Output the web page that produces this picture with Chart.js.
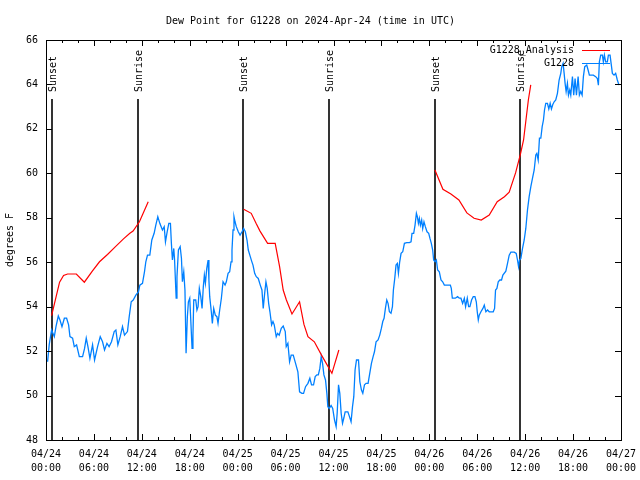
<!DOCTYPE html>
<html lang="en">
<head>
    <meta charset="UTF-8">
    <title>Dew Point for G1228</title>
    <script src="https://cdn.jsdelivr.net/npm/chart.js"></script>
    <style>
        body { margin: 0; background: #fff; }
    </style>
</head>
<body>
    <canvas id="dewChart" width="640" height="480"></canvas>

    <script>
        // hours since 2024-04-24 00:00 UTC
        const tickDates = ['04/24', '04/24', '04/24', '04/24', '04/25', '04/25', '04/25', '04/25', '04/26', '04/26', '04/26', '04/26', '04/27'];
        const tickTimes = ['00:00', '06:00', '12:00', '18:00', '00:00', '06:00', '12:00', '18:00', '00:00', '06:00', '12:00', '18:00', '00:00'];

        const sunHours = [0.7, 11.5, 24.7, 35.4, 48.7, 59.4];
        const sunLabels = ['Sunset', 'Sunrise', 'Sunset', 'Sunrise', 'Sunset', 'Sunrise'];

        // analysis runs, null breaks the line between runs
        const analysisHours = [
            0.7, 1.7, 2.2, 2.7, 3.8, 4.8, 5.8, 6.7, 7.7, 8.7, 9.7, 10.5, 10.9, 11.7, 12.8, 18,
            24.75, 25.7, 26.3, 26.8, 27.75, 28.7, 29.25, 29.7, 30.1, 30.8, 31.75, 32.3, 32.8, 33.6, 34.5, 35.8, 36.67, 42,
            48.7, 49.7, 50.7, 51.7, 52.7, 53.6, 54.5, 55.5, 56.5, 57.4, 58.0, 58.8, 59.4, 59.8, 60.1, 60.4, 60.7
        ];
        const analysisValues = [
            53.6, 55.1, 55.4, 55.47, 55.47, 55.1, 55.6, 56.02, 56.35, 56.7, 57.05, 57.3, 57.4, 57.82, 58.72, null,
            58.38, 58.2, 57.75, 57.4, 56.85, 56.85, 55.8, 54.75, 54.3, 53.67, 54.22, 53.2, 52.65, 52.42, 51.82, 51.0, 52.05, null,
            60.15, 59.28, 59.07, 58.8, 58.22, 57.98, 57.9, 58.12, 58.72, 58.95, 59.15, 60.02, 60.85, 61.5, 62.4, 63.3, 63.98
        ];

        const obsHours = [
            0.2, 0.4, 0.7, 1.04, 1.25, 1.54, 1.75, 2.0, 2.3, 2.58, 2.83, 3.0, 3.33, 3.54, 3.83, 4.17, 4.58, 4.83, 5.04, 5.25,
            5.5, 5.83, 6.08, 6.46, 6.79, 7.08, 7.33, 7.63, 7.9, 8.2, 8.54, 8.75, 9.0, 9.29, 9.58, 9.83, 10.2, 10.42, 10.67, 10.92,
            11.25, 11.58, 11.75, 12.08, 12.33, 12.5, 12.71, 13.0, 13.25, 13.54, 13.75, 14.0, 14.25, 14.58, 14.8, 14.96, 15.17, 15.38, 15.58, 15.7,
            15.83, 16.0, 16.1, 16.3, 16.4, 16.58, 16.8, 16.96, 17.08, 17.25, 17.4, 17.54, 17.7, 17.83, 18.0, 18.1, 18.29, 18.4, 18.5, 18.75,
            18.9, 19.04, 19.2, 19.38, 19.54, 19.7, 19.83, 19.96, 20.13, 20.3, 20.4, 20.5, 20.7, 20.83, 21.0, 21.2, 21.4, 21.54, 21.75, 21.96,
            22.17, 22.42, 22.58, 22.8, 23.0, 23.17, 23.29, 23.42, 23.54, 23.67, 23.83, 24.08, 24.3, 24.54, 24.75, 24.96, 25.17, 25.33, 25.58, 25.75,
            25.92, 26.13, 26.33, 26.58, 26.83, 27.04, 27.2, 27.38, 27.54, 27.7, 27.88, 28.04, 28.25, 28.42, 28.58, 28.83, 29.0, 29.2, 29.46, 29.7,
            29.96, 30.08, 30.29, 30.5, 30.7, 30.96, 31.25, 31.54, 31.75, 32.04, 32.25, 32.5, 32.8, 33.04, 33.25, 33.5, 33.71, 33.92, 34.1, 34.29,
            34.46, 34.63, 34.8, 35.0, 35.17, 35.29, 35.46, 35.7, 35.9, 36.13, 36.33, 36.46, 36.63, 36.79, 36.96, 37.13, 37.3, 37.46, 37.8, 38.0,
            38.2, 38.38, 38.54, 38.7, 38.88, 39.13, 39.3, 39.5, 39.67, 39.88, 40.08, 40.33, 40.54, 40.75, 40.96, 41.13, 41.33, 41.58, 41.79, 42.0,
            42.17, 42.33, 42.5, 42.67, 42.83, 43.0, 43.2, 43.38, 43.5, 43.67, 43.83, 44.0, 44.13, 44.29, 44.46, 44.67, 44.88, 45.17, 45.5, 45.71,
            45.83, 46.04, 46.21, 46.38, 46.5, 46.63, 46.75, 46.88, 47.04, 47.17, 47.33, 47.5, 47.71, 47.92, 48.08, 48.25, 48.42, 48.54, 48.71, 48.88,
            49.04, 49.25, 49.46, 49.67, 49.88, 50.29, 50.63, 50.75, 50.88, 51.25, 51.54, 51.75, 51.96, 52.17, 52.38, 52.54, 52.75, 52.92, 53.08, 53.29,
            53.5, 53.71, 53.88, 54.0, 54.13, 54.25, 54.46, 54.71, 54.88, 55.08, 55.29, 55.5, 55.71, 56.0, 56.17, 56.29, 56.46, 56.63, 56.83, 57.04,
            57.21, 57.58, 57.79, 58.0, 58.21, 58.63, 58.88, 59.04, 59.17, 59.29, 59.46, 59.67, 59.88, 60.08, 60.29, 60.5, 60.71, 60.92, 61.13, 61.33,
            61.46, 61.63, 61.79, 61.96, 62.13, 62.29, 62.42, 62.58, 62.79, 62.96, 63.13, 63.29, 63.46, 63.63, 63.83, 64.04, 64.25, 64.46, 64.58, 64.75,
            64.88, 65.0, 65.13, 65.29, 65.42, 65.58, 65.71, 65.92, 66.08, 66.25, 66.42, 66.63, 66.79, 66.96, 67.13, 67.29, 67.46, 67.71, 67.88, 68.04,
            68.29, 68.54, 68.83, 69.04, 69.17, 69.29, 69.46, 69.67, 69.79, 69.92, 70.08, 70.29, 70.42, 70.63, 70.79, 70.92, 71.13, 71.33, 71.54, 71.75
        ];
        const obsValues = [
            51.52, 52.28, 52.95, 52.65, 53.1, 53.58, 53.4, 53.1, 53.48, 53.48, 53.18, 52.65, 52.58, 52.2, 52.28, 51.75, 51.75, 52.12, 52.58, 52.2,
            51.67, 52.28, 51.6, 52.2, 52.65, 52.42, 52.05, 52.35, 52.2, 52.42, 52.88, 52.95, 52.28, 52.65, 53.1, 52.72, 52.88, 53.55, 54.22, 54.3,
            54.52, 54.67, 54.97, 55.05, 55.57, 56.02, 56.32, 56.32, 57.0, 57.3, 57.67, 58.05, 57.75, 57.45, 57.6, 56.92, 57.37, 57.75, 57.75, 56.85,
            56.1, 56.62, 56.1, 54.38, 55.35, 56.55, 56.7, 56.18, 55.12, 55.57, 54.75, 51.9, 53.55, 54.22, 54.38, 53.62, 52.12, 52.72, 54.3, 54.3,
            53.85, 54.0, 54.82, 54.45, 53.92, 54.9, 55.42, 55.05, 55.72, 56.1, 55.2, 54.45, 53.77, 53.25, 53.92, 53.62, 53.55, 53.25, 53.85, 54.38,
            55.12, 54.97, 55.12, 55.5, 55.57, 56.02, 56.55, 57.45, 58.05, 57.82, 57.6, 57.37, 57.22, 57.37, 57.52, 57.37, 57.0, 56.55, 56.25, 56.05,
            55.87, 55.5, 55.35, 55.27, 54.97, 54.75, 53.92, 54.6, 55.12, 54.82, 54.15, 53.77, 53.18, 53.33, 53.18, 52.65, 52.8, 52.72, 53.03, 53.13,
            52.88, 52.2, 52.35, 51.52, 51.82, 51.82, 51.45, 51.07, 50.17, 50.1, 50.1, 50.4, 50.55, 50.78, 50.48, 50.48, 50.85, 50.93, 50.93, 51.22,
            51.75, 51.45, 50.93, 50.7, 50.1, 49.5, 49.42, 49.55, 49.42, 48.9, 48.6, 49.2, 50.48, 50.1, 49.2, 48.75, 49.0, 49.27, 49.27, 49.05,
            48.82, 49.5, 49.95, 51.15, 51.6, 51.6, 50.62, 50.25, 50.1, 50.48, 50.55, 50.55, 51.0, 51.45, 51.75, 51.97, 52.42, 52.5, 52.72, 53.03,
            53.33, 53.48, 53.92, 54.3, 54.15, 53.77, 53.7, 54.0, 54.75, 55.27, 55.87, 55.95, 55.5, 56.02, 56.4, 56.47, 56.85, 56.88, 56.88, 56.92,
            57.3, 57.3, 57.67, 58.2, 58.05, 57.75, 57.97, 57.67, 57.9, 57.52, 57.82, 57.6, 57.37, 57.3, 57.07, 56.85, 56.55, 56.1, 56.02, 56.1,
            55.65, 55.57, 55.2, 55.12, 54.97, 54.97, 54.97, 54.82, 54.38, 54.38, 54.45, 54.38, 54.38, 54.15, 54.38, 54.0, 54.38, 54.0, 54.0, 54.3,
            54.45, 54.45, 54.22, 53.77, 53.4, 53.62, 53.77, 53.92, 54.07, 53.77, 53.85, 53.77, 53.77, 53.77, 53.92, 54.75, 54.82, 55.12, 55.2, 55.2,
            55.42, 55.6, 55.95, 56.32, 56.45, 56.45, 56.4, 56.1, 55.8, 56.1, 56.17, 56.62, 57.0, 57.52, 58.35, 58.95, 59.4, 59.78, 60.15, 60.83,
            60.9, 60.6, 61.58, 61.58, 62.1, 62.4, 62.85, 63.15, 63.15, 62.9, 63.15, 62.9, 63.1, 63.22, 63.3, 63.6, 64.2, 64.5, 64.8, 64.95,
            64.5, 64.05, 63.68, 64.05, 63.52, 63.75, 63.52, 64.35, 63.52, 64.27, 63.52, 64.35, 63.52, 63.68, 63.52, 64.35, 64.8, 64.87, 64.65, 64.42,
            64.42, 64.42, 64.35, 64.27, 63.97, 65.02, 65.32, 65.32, 65.02, 65.32, 65.02, 65.02, 65.32, 65.32, 64.87, 64.5, 64.42, 64.5, 64.2, 63.97
        ];

        const FONT = 'DejaVu Sans Mono';

        function toPoints(xs, ys) {
            return xs.map((x, i) => ({ x: x, y: ys[i] }));
        }

        // frame, inward ticks, sunrise/sunset markers and legend, gnuplot style
        const gnuplotDecor = {
            id: 'gnuplotDecor',
            beforeDatasetsDraw(chart) {
                const { ctx, chartArea, scales } = chart;
                ctx.save();
                ctx.strokeStyle = '#000';
                ctx.lineWidth = 1.6;
                sunHours.forEach((h) => {
                    const x = Math.round(scales.x.getPixelForValue(h));
                    ctx.beginPath();
                    ctx.moveTo(x, chartArea.top + 59);
                    ctx.lineTo(x, chartArea.bottom);
                    ctx.stroke();
                });
                ctx.fillStyle = '#000';
                ctx.font = '10px ' + FONT;
                ctx.textAlign = 'left';
                ctx.textBaseline = 'middle';
                sunHours.forEach((h, i) => {
                    const x = Math.round(scales.x.getPixelForValue(h)) + 1;
                    ctx.save();
                    ctx.translate(x, chartArea.top + 52);
                    ctx.rotate(-Math.PI / 2);
                    ctx.fillText(sunLabels[i], 0, 0);
                    ctx.restore();
                });
                ctx.restore();
            },
            afterDatasetsDraw(chart) {
                const { ctx, chartArea, scales } = chart;
                const { left, right, top, bottom } = chartArea;
                ctx.save();
                ctx.strokeStyle = '#000';
                ctx.lineWidth = 1;
                ctx.beginPath();
                for (let h = 0; h <= 72; h += 2) {
                    const x = Math.round(scales.x.getPixelForValue(h)) + 0.5;
                    const len = h % 6 === 0 ? 6 : 3;
                    ctx.moveTo(x, bottom); ctx.lineTo(x, bottom - len);
                    ctx.moveTo(x, top); ctx.lineTo(x, top + len);
                }
                for (let v = 48; v <= 66; v += 2) {
                    const y = Math.round(scales.y.getPixelForValue(v)) + 0.5;
                    ctx.moveTo(left, y); ctx.lineTo(left + 6, y);
                    ctx.moveTo(right, y); ctx.lineTo(right - 6, y);
                }
                ctx.stroke();
                ctx.strokeRect(Math.round(left) + 0.5, Math.round(top) + 0.5, Math.round(right - left), Math.round(bottom - top));

                // key in the top right corner
                ctx.font = '10px ' + FONT;
                ctx.textAlign = 'right';
                ctx.textBaseline = 'middle';
                chart.data.datasets.forEach((ds, i) => {
                    const y = top + 10 + i * 13;
                    ctx.fillStyle = '#000';
                    ctx.fillText(ds.label, right - 47, y);
                    ctx.strokeStyle = ds.borderColor;
                    ctx.lineWidth = 1;
                    ctx.beginPath();
                    ctx.moveTo(right - 39, Math.round(y) + 0.5);
                    ctx.lineTo(right - 11, Math.round(y) + 0.5);
                    ctx.stroke();
                });
                ctx.restore();
            }
        };

        const ctx = document.getElementById('dewChart').getContext('2d');
        new Chart(ctx, {
            type: 'line',
            data: {
                datasets: [{
                    label: 'G1228_Analysis',
                    data: toPoints(analysisHours, analysisValues),
                    borderColor: '#ff0000',
                    borderWidth: 1.2,
                    pointRadius: 0,
                    tension: 0,
                    spanGaps: false,
                    fill: false
                }, {
                    label: 'G1228',
                    data: toPoints(obsHours, obsValues),
                    borderColor: '#0080ff',
                    borderWidth: 1.3,
                    pointRadius: 0,
                    tension: 0,
                    fill: false
                }]
            },
            options: {
                responsive: false,
                animation: false,
                devicePixelRatio: 1,
                layout: { padding: { left: 0, right: 19, top: 0, bottom: 0 } },
                plugins: {
                    legend: { display: false },
                    tooltip: { enabled: false },
                    title: {
                        display: true,
                        text: 'Dew Point for G1228 on 2024-Apr-24 (time in UTC)',
                        color: '#000',
                        font: { family: FONT, size: 10, weight: 'normal', lineHeight: 1.2 },
                        padding: { top: 15, bottom: 13 }
                    }
                },
                scales: {
                    x: {
                        type: 'linear',
                        min: 0,
                        max: 72,
                        grid: { display: false, drawTicks: false, tickLength: 0 },
                        border: { display: false },
                        ticks: {
                            stepSize: 6,
                            autoSkip: false,
                            maxRotation: 0,
                            padding: 7,
                            color: '#000',
                            font: { family: FONT, size: 10, lineHeight: 1.45 },
                            callback: (value) => {
                                const i = Math.round(value / 6);
                                return [tickDates[i], tickTimes[i]];
                            }
                        },
                        afterFit: (scale) => {
                            scale.height = 40;
                            scale.paddingLeft = 0;
                            scale.paddingRight = 0;
                        }
                    },
                    y: {
                        min: 48,
                        max: 66,
                        grid: { display: false, drawTicks: false, tickLength: 0 },
                        border: { display: false },
                        ticks: {
                            stepSize: 2,
                            padding: 8,
                            color: '#000',
                            font: { family: FONT, size: 10 }
                        },
                        title: {
                            display: true,
                            text: 'degrees F',
                            color: '#000',
                            font: { family: FONT, size: 10, lineHeight: 1.2 },
                            padding: { top: 4, bottom: 0 }
                        },
                        afterFit: (scale) => { scale.width = 46; }
                    }
                }
            },
            plugins: [gnuplotDecor]
        });
    </script>
</body>
</html>
